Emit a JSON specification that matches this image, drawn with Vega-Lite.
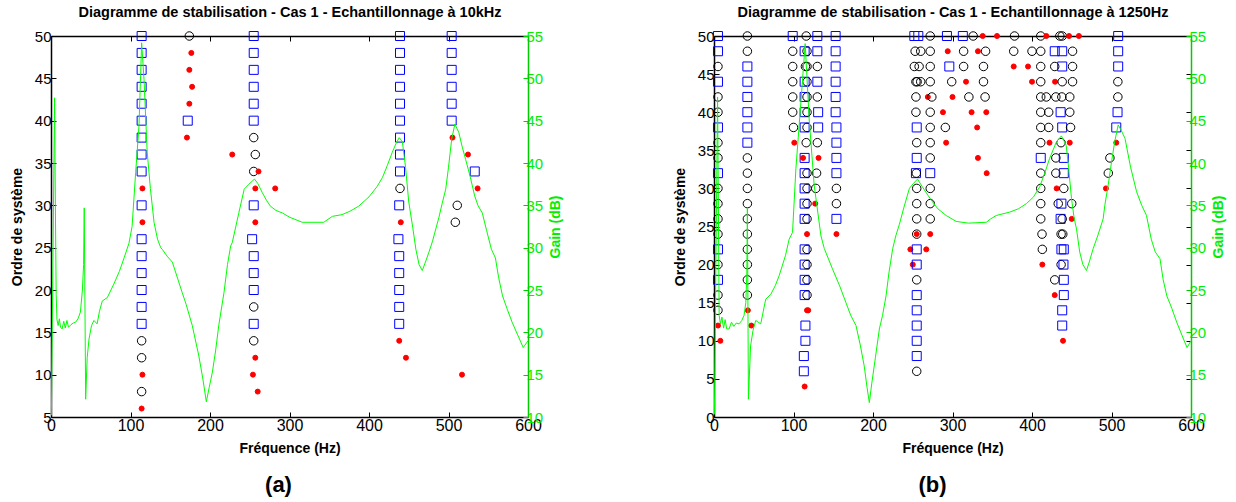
{
"$schema": "https://vega.github.io/schema/vega-lite/v6.json",
"padding": {"left": 10, "top": 4, "right": 2, "bottom": 2},
"background": "white",
"config": {
 "font": "Liberation Sans",
 "view": {"stroke": null},
 "axis": {"grid": false, "labelFont": "Liberation Sans", "titleFont": "Liberation Sans", "labelFontSize": 15, "titleFontSize": 14, "titleFontWeight": "bold", "titleColor": "#000000", "labelColor": "#000000", "domainColor": "#000000", "tickColor": "#000000", "tickSize": -5, "domainWidth": 1.5, "tickWidth": 1, "labelPadding": 5, "labelFlush": false, "labelOverlap": false},
 "title": {"font": "Liberation Sans", "color": "#000000"}
},
"datasets": {
"ptsA": [
{"f":114,"o":50,"k":"s"},{"f":114,"o":48,"k":"s"},{"f":114,"o":46,"k":"s"},{"f":114,"o":44,"k":"s"},{"f":114,"o":42,"k":"s"},{"f":114,"o":40,"k":"s"},{"f":114,"o":38,"k":"s"},{"f":114,"o":36,"k":"s"},{"f":114,"o":34,"k":"s"},{"f":115,"o":32,"k":"r"},{"f":114,"o":30,"k":"s"},{"f":115,"o":28,"k":"r"},{"f":114,"o":26,"k":"s"},{"f":114,"o":24,"k":"s"},{"f":114,"o":22,"k":"s"},{"f":114,"o":20,"k":"s"},{"f":114,"o":18,"k":"s"},{"f":114,"o":16,"k":"s"},{"f":114,"o":14,"k":"c"},{"f":114,"o":12,"k":"c"},{"f":115,"o":10,"k":"r"},{"f":114,"o":8,"k":"c"},{"f":114,"o":6,"k":"r"},
{"f":174,"o":50,"k":"c"},{"f":176.5,"o":48,"k":"r"},{"f":174,"o":46,"k":"r"},{"f":177.5,"o":44,"k":"r"},{"f":174,"o":42,"k":"r"},{"f":172,"o":40,"k":"s"},{"f":171,"o":38,"k":"r"},{"f":228,"o":36,"k":"r"},
{"f":255,"o":50,"k":"s"},{"f":255,"o":48,"k":"s"},{"f":255,"o":46,"k":"s"},{"f":255,"o":44,"k":"s"},{"f":255,"o":42,"k":"s"},{"f":255,"o":40,"k":"s"},{"f":255,"o":38,"k":"c"},{"f":257,"o":36,"k":"c"},{"f":255,"o":34,"k":"c"},{"f":261,"o":34,"k":"r"},{"f":257,"o":32,"k":"r"},{"f":282,"o":32,"k":"r"},{"f":255,"o":30,"k":"s"},{"f":257,"o":28,"k":"r"},{"f":253,"o":26,"k":"s"},{"f":255,"o":24,"k":"s"},{"f":255,"o":22,"k":"s"},{"f":255,"o":20,"k":"s"},{"f":255,"o":18,"k":"c"},{"f":255,"o":16,"k":"s"},{"f":255,"o":14,"k":"c"},{"f":257,"o":12,"k":"r"},{"f":254,"o":10,"k":"r"},{"f":260,"o":8,"k":"r"},
{"f":439,"o":50,"k":"s"},{"f":439,"o":48,"k":"s"},{"f":439,"o":46,"k":"s"},{"f":439,"o":44,"k":"s"},{"f":439,"o":42,"k":"s"},{"f":439,"o":40,"k":"s"},{"f":439,"o":38,"k":"s"},{"f":439,"o":36,"k":"s"},{"f":439,"o":34,"k":"s"},{"f":439,"o":32,"k":"c"},{"f":438,"o":30,"k":"s"},{"f":440,"o":28,"k":"r"},{"f":437,"o":26,"k":"s"},{"f":438,"o":24,"k":"s"},{"f":438,"o":22,"k":"s"},{"f":438,"o":20,"k":"s"},{"f":438,"o":18,"k":"s"},{"f":438,"o":16,"k":"s"},{"f":438,"o":14,"k":"r"},{"f":446.5,"o":12,"k":"r"},{"f":517,"o":10,"k":"r"},
{"f":504,"o":50,"k":"s"},{"f":504,"o":48,"k":"s"},{"f":504,"o":46,"k":"s"},{"f":504,"o":44,"k":"s"},{"f":504,"o":42,"k":"s"},{"f":504,"o":40,"k":"s"},{"f":505,"o":38,"k":"r"},{"f":524.5,"o":36,"k":"r"},{"f":533,"o":34,"k":"s"},{"f":536.6,"o":32,"k":"r"},{"f":511,"o":30,"k":"c"},{"f":508.6,"o":28,"k":"c"}
],
"lineA": [
{"f":0.5,"g":10.2},{"f":4.5,"g":47.7},{"f":5.5,"g":35},{"f":6.5,"g":24.5},{"f":7.5,"g":21.5},{"f":9,"g":20.8},{"f":10.5,"g":21.6},{"f":12,"g":20.6},{"f":14,"g":20.4},{"f":16,"g":21.3},{"f":18,"g":20.5},{"f":20,"g":21.4},{"f":22,"g":20.6},{"f":25,"g":20.9},{"f":28,"g":21.1},{"f":31,"g":21.2},{"f":34,"g":21.6},{"f":37,"g":22.4},{"f":39.5,"g":25},{"f":41,"g":28},{"f":41.8,"g":34.7},{"f":43.6,"g":12.1},{"f":45.5,"g":17},{"f":47.8,"g":19.2},{"f":51,"g":20.8},{"f":54,"g":21.4},{"f":58,"g":21},{"f":61,"g":22.5},{"f":64.5,"g":23.7},{"f":70.8,"g":24.1},{"f":79,"g":25.7},{"f":86,"g":27.2},{"f":92,"g":28.8},{"f":98,"g":30.5},{"f":102,"g":32.5},{"f":106.5,"g":38.9},{"f":110.7,"g":44.4},{"f":114,"g":54.2},{"f":117,"g":49.9},{"f":121,"g":41.3},{"f":125,"g":37},{"f":129.6,"g":33},{"f":134,"g":31},{"f":138,"g":30},{"f":140,"g":29.8},{"f":146,"g":29},{"f":152.6,"g":28.3},{"f":165,"g":24.7},{"f":170,"g":23.3},{"f":177.7,"g":20.8},{"f":186,"g":17.2},{"f":191,"g":14.5},{"f":195.4,"g":11.8},{"f":199,"g":13.5},{"f":203,"g":15.3},{"f":207,"g":17.8},{"f":211,"g":20.8},{"f":217.6,"g":24.7},{"f":222,"g":28},{"f":226,"g":30.2},{"f":228,"g":30.6},{"f":236,"g":34},{"f":243,"g":36.9},{"f":249,"g":37.5},{"f":256,"g":38.1},{"f":260,"g":37.6},{"f":265.8,"g":36.5},{"f":271,"g":35.6},{"f":276,"g":34.9},{"f":283,"g":34.4},{"f":291,"g":34.1},{"f":300,"g":33.6},{"f":316,"g":33},{"f":337,"g":33},{"f":343,"g":33},{"f":354,"g":33.7},{"f":366,"g":33.9},{"f":376,"g":34.3},{"f":387,"g":34.9},{"f":400,"g":36},{"f":410,"g":37.2},{"f":417,"g":38.3},{"f":423,"g":39.7},{"f":429,"g":41.2},{"f":434,"g":42.3},{"f":438,"g":43},{"f":442,"g":42.5},{"f":446,"g":39.5},{"f":450,"g":35.4},{"f":455,"g":32.4},{"f":459,"g":29.8},{"f":463,"g":28},{"f":467,"g":27.3},{"f":471,"g":28.3},{"f":475.5,"g":29.5},{"f":480,"g":30.8},{"f":484,"g":32.2},{"f":488,"g":33.6},{"f":492,"g":35.2},{"f":496.5,"g":36.9},{"f":500,"g":39.5},{"f":504,"g":42.8},{"f":508,"g":44.6},{"f":513,"g":43.6},{"f":517,"g":42},{"f":521.6,"g":40.4},{"f":527,"g":38.5},{"f":533,"g":36.1},{"f":537,"g":35},{"f":542.5,"g":34.1},{"f":548,"g":32},{"f":554,"g":29.8},{"f":559,"g":28.8},{"f":563,"g":26.5},{"f":568,"g":24.3},{"f":574,"g":22.7},{"f":580,"g":21.2},{"f":587,"g":19.7},{"f":594,"g":18.2},{"f":600,"g":19}
],
"ptsB": [
{"f":5,"o":50,"k":"s"},{"f":5,"o":48,"k":"s"},{"f":5,"o":46,"k":"c"},{"f":5,"o":44,"k":"s"},{"f":5,"o":42,"k":"c"},{"f":5,"o":40,"k":"c"},{"f":5,"o":38,"k":"s"},{"f":5,"o":36,"k":"c"},{"f":5,"o":34,"k":"c"},{"f":5,"o":32,"k":"s"},{"f":5,"o":30,"k":"c"},{"f":5,"o":28,"k":"c"},{"f":5,"o":26,"k":"c"},{"f":5,"o":24,"k":"c"},{"f":5,"o":22,"k":"s"},{"f":5,"o":20,"k":"c"},{"f":5,"o":18,"k":"s"},{"f":5,"o":16,"k":"c"},{"f":5,"o":14,"k":"c"},{"f":5,"o":12,"k":"r"},{"f":8,"o":10,"k":"r"},
{"f":42,"o":50,"k":"c"},{"f":42,"o":48,"k":"c"},{"f":42,"o":46,"k":"s"},{"f":42,"o":44,"k":"s"},{"f":42,"o":42,"k":"s"},{"f":42,"o":40,"k":"s"},{"f":42,"o":38,"k":"s"},{"f":42,"o":36,"k":"s"},{"f":42,"o":34,"k":"c"},{"f":42,"o":32,"k":"c"},{"f":42,"o":30,"k":"c"},{"f":42,"o":28,"k":"c"},{"f":42,"o":26,"k":"c"},{"f":42,"o":24,"k":"c"},{"f":42,"o":22,"k":"c"},{"f":42,"o":20,"k":"c"},{"f":42,"o":18,"k":"c"},{"f":42,"o":16,"k":"c"},{"f":42.6,"o":14,"k":"r"},{"f":47,"o":12,"k":"r"},
{"f":99,"o":50,"k":"s"},{"f":116,"o":50,"k":"c"},{"f":130,"o":50,"k":"s"},{"f":153,"o":50,"k":"s"},
{"f":99,"o":48,"k":"c"},{"f":114,"o":48,"k":"s"},{"f":117,"o":48,"k":"c"},{"f":130,"o":48,"k":"s"},{"f":153,"o":48,"k":"s"},
{"f":99,"o":46,"k":"c"},{"f":115,"o":46,"k":"c"},{"f":117,"o":46,"k":"c"},{"f":130,"o":46,"k":"c"},{"f":153,"o":46,"k":"s"},
{"f":99,"o":44,"k":"c"},{"f":114,"o":44,"k":"s"},{"f":117,"o":44,"k":"c"},{"f":130,"o":44,"k":"s"},{"f":153,"o":44,"k":"s"},
{"f":99,"o":42,"k":"c"},{"f":114,"o":42,"k":"s"},{"f":117,"o":42,"k":"c"},{"f":130,"o":42,"k":"c"},{"f":153,"o":42,"k":"s"},
{"f":99,"o":40,"k":"c"},{"f":114,"o":40,"k":"s"},{"f":117,"o":40,"k":"c"},{"f":131,"o":40,"k":"s"},{"f":153,"o":40,"k":"s"},
{"f":100,"o":38,"k":"c"},{"f":114,"o":38,"k":"s"},{"f":117,"o":38,"k":"c"},{"f":131,"o":38,"k":"s"},{"f":154,"o":38,"k":"s"},
{"f":101,"o":36,"k":"r"},{"f":116,"o":36,"k":"c"},{"f":130,"o":36,"k":"c"},{"f":154,"o":36,"k":"s"},
{"f":114,"o":34,"k":"s"},{"f":112,"o":34,"k":"r"},{"f":131.5,"o":34,"k":"r"},{"f":154,"o":34,"k":"s"},
{"f":114,"o":32,"k":"s"},{"f":117,"o":32,"k":"c"},{"f":129,"o":32,"k":"c"},{"f":154,"o":32,"k":"s"},
{"f":114,"o":30,"k":"s"},{"f":117,"o":30,"k":"c"},{"f":128,"o":30,"k":"c"},{"f":154,"o":30,"k":"c"},
{"f":114,"o":28,"k":"s"},{"f":117,"o":28,"k":"c"},{"f":127.3,"o":28,"k":"r"},{"f":154,"o":28,"k":"c"},
{"f":114,"o":26,"k":"s"},{"f":117,"o":26,"k":"c"},{"f":154,"o":26,"k":"s"},
{"f":117,"o":24,"k":"r"},{"f":154,"o":24,"k":"r"},
{"f":114,"o":22,"k":"s"},{"f":117,"o":22,"k":"c"},{"f":114,"o":20,"k":"s"},{"f":117,"o":20,"k":"c"},{"f":114,"o":18,"k":"s"},{"f":117,"o":18,"k":"c"},{"f":114,"o":16,"k":"s"},{"f":117,"o":16,"k":"c"},
{"f":117,"o":14,"k":"r"},{"f":118.5,"o":14,"k":"r"},{"f":115,"o":12,"k":"s"},{"f":115,"o":10,"k":"s"},{"f":113,"o":8,"k":"s"},{"f":113,"o":6,"k":"s"},{"f":114,"o":4,"k":"r"},
{"f":252,"o":50,"k":"s"},{"f":257,"o":50,"k":"s"},{"f":272,"o":50,"k":"c"},{"f":293,"o":50,"k":"s"},{"f":313,"o":50,"k":"s"},{"f":326,"o":50,"k":"c"},{"f":338,"o":50,"k":"r"},{"f":356,"o":50,"k":"r"},{"f":378,"o":50,"k":"c"},{"f":411,"o":50,"k":"c"},{"f":418,"o":50,"k":"r"},{"f":435,"o":50,"k":"c"},{"f":438,"o":50,"k":"c"},{"f":446.6,"o":50,"k":"r"},{"f":459,"o":50,"k":"r"},{"f":508.4,"o":50,"k":"s"},
{"f":253,"o":48,"k":"c"},{"f":260,"o":48,"k":"c"},{"f":272,"o":48,"k":"c"},{"f":294,"o":48,"k":"r"},{"f":314,"o":48,"k":"c"},{"f":332,"o":48,"k":"r"},{"f":341.6,"o":48,"k":"c"},{"f":377,"o":48,"k":"c"},{"f":400,"o":48,"k":"c"},{"f":411,"o":48,"k":"c"},{"f":428.6,"o":48,"k":"s"},{"f":438,"o":48,"k":"s"},{"f":451,"o":48,"k":"c"},{"f":508.4,"o":48,"k":"s"},
{"f":252,"o":46,"k":"c"},{"f":258,"o":46,"k":"c"},{"f":272,"o":46,"k":"c"},{"f":296,"o":46,"k":"s"},{"f":314,"o":46,"k":"c"},{"f":339,"o":46,"k":"c"},{"f":377,"o":46,"k":"r"},{"f":395,"o":46,"k":"r"},{"f":411,"o":46,"k":"c"},{"f":428.6,"o":46,"k":"c"},{"f":438,"o":46,"k":"s"},{"f":451,"o":46,"k":"c"},{"f":508.4,"o":46,"k":"s"},
{"f":254,"o":44,"k":"c"},{"f":255.5,"o":44,"k":"c"},{"f":260,"o":44,"k":"c"},{"f":272,"o":44,"k":"c"},{"f":299,"o":44,"k":"c"},{"f":317,"o":44,"k":"r"},{"f":339,"o":44,"k":"c"},{"f":400,"o":44,"k":"r"},{"f":411,"o":44,"k":"c"},{"f":429,"o":44,"k":"r"},{"f":438,"o":44,"k":"c"},{"f":451,"o":44,"k":"c"},{"f":508,"o":44,"k":"c"},
{"f":254,"o":42,"k":"c"},{"f":269,"o":42,"k":"r"},{"f":274,"o":42,"k":"c"},{"f":300,"o":42,"k":"r"},{"f":320.6,"o":42,"k":"c"},{"f":341,"o":42,"k":"c"},{"f":411,"o":42,"k":"c"},{"f":418,"o":42,"k":"c"},{"f":430,"o":42,"k":"c"},{"f":437.5,"o":42,"k":"c"},{"f":447.5,"o":42,"k":"c"},{"f":508,"o":42,"k":"c"},
{"f":254,"o":40,"k":"c"},{"f":272,"o":40,"k":"c"},{"f":288,"o":40,"k":"r"},{"f":324,"o":40,"k":"r"},{"f":342.5,"o":40,"k":"r"},{"f":411,"o":40,"k":"c"},{"f":421,"o":40,"k":"c"},{"f":436,"o":40,"k":"s"},{"f":447.5,"o":40,"k":"c"},{"f":507.6,"o":40,"k":"s"},
{"f":255,"o":38,"k":"s"},{"f":272,"o":38,"k":"c"},{"f":291,"o":38,"k":"c"},{"f":331,"o":38,"k":"r"},{"f":411,"o":38,"k":"c"},{"f":421,"o":38,"k":"c"},{"f":438,"o":38,"k":"s"},{"f":448.5,"o":38,"k":"c"},{"f":506,"o":38,"k":"s"},
{"f":255,"o":36,"k":"c"},{"f":272,"o":36,"k":"c"},{"f":292,"o":36,"k":"r"},{"f":411,"o":36,"k":"c"},{"f":422,"o":36,"k":"r"},{"f":436.5,"o":36,"k":"c"},{"f":447.5,"o":36,"k":"r"},{"f":506,"o":36,"k":"r"},
{"f":255,"o":34,"k":"s"},{"f":272,"o":34,"k":"c"},{"f":332,"o":34,"k":"r"},{"f":411,"o":34,"k":"s"},{"f":430,"o":34,"k":"c"},{"f":440,"o":34,"k":"s"},{"f":498,"o":34,"k":"c"},
{"f":254,"o":32,"k":"s"},{"f":254.5,"o":32,"k":"c"},{"f":272,"o":32,"k":"s"},{"f":343,"o":32,"k":"r"},{"f":411,"o":32,"k":"c"},{"f":430,"o":32,"k":"c"},{"f":440,"o":32,"k":"s"},{"f":496,"o":32,"k":"c"},
{"f":255,"o":30,"k":"c"},{"f":272,"o":30,"k":"c"},{"f":411,"o":30,"k":"c"},{"f":431,"o":30,"k":"r"},{"f":440,"o":30,"k":"c"},{"f":493,"o":30,"k":"r"},
{"f":255,"o":28,"k":"c"},{"f":272,"o":28,"k":"c"},{"f":411,"o":28,"k":"c"},{"f":433,"o":28,"k":"c"},{"f":437,"o":28,"k":"s"},{"f":450,"o":28,"k":"c"},
{"f":255,"o":26,"k":"c"},{"f":272,"o":26,"k":"c"},{"f":411,"o":26,"k":"c"},{"f":436,"o":26,"k":"s"},{"f":438,"o":26,"k":"c"},{"f":450,"o":26,"k":"r"},
{"f":255,"o":24,"k":"c"},{"f":255,"o":24,"k":"r"},{"f":272,"o":24,"k":"r"},{"f":412.6,"o":24,"k":"c"},{"f":436.6,"o":24,"k":"c"},{"f":438.7,"o":24,"k":"c"},
{"f":247,"o":22,"k":"r"},{"f":255,"o":22,"k":"s"},{"f":267,"o":22,"k":"r"},{"f":413,"o":22,"k":"c"},{"f":437,"o":22,"k":"s"},{"f":440,"o":22,"k":"s"},
{"f":250,"o":20,"k":"r"},{"f":255,"o":20,"k":"s"},{"f":413,"o":20,"k":"r"},{"f":436.6,"o":20,"k":"c"},{"f":439.6,"o":20,"k":"s"},
{"f":255,"o":18,"k":"c"},{"f":428.6,"o":18,"k":"c"},{"f":440,"o":18,"k":"s"},
{"f":255,"o":16,"k":"s"},{"f":428.6,"o":16,"k":"r"},{"f":440,"o":16,"k":"s"},
{"f":255,"o":14,"k":"s"},{"f":438,"o":14,"k":"s"},{"f":255,"o":12,"k":"s"},{"f":438,"o":12,"k":"s"},{"f":255,"o":10,"k":"s"},{"f":439,"o":10,"k":"r"},{"f":255,"o":8,"k":"s"},{"f":255,"o":6,"k":"c"}
],
"lineB": [
{"f":0.5,"g":10.3},{"f":4.5,"g":47.8},{"f":5.5,"g":35},{"f":6.5,"g":22},{"f":8,"g":21},{"f":10,"g":21.8},{"f":12,"g":20.5},{"f":14,"g":21.5},{"f":16,"g":20.4},{"f":19,"g":20.4},{"f":22,"g":21.2},{"f":25,"g":20.7},{"f":28,"g":21.1},{"f":31.5,"g":21},{"f":35,"g":21.4},{"f":37.8,"g":22},{"f":40,"g":23.5},{"f":41.3,"g":27},{"f":42,"g":34.7},{"f":43.3,"g":12.1},{"f":46,"g":18.4},{"f":49,"g":20.2},{"f":52.5,"g":21.4},{"f":55.5,"g":21.2},{"f":58.8,"g":21},{"f":62,"g":22.5},{"f":65,"g":23.9},{"f":71.5,"g":24.5},{"f":77,"g":25.5},{"f":82,"g":26.7},{"f":90,"g":29.1},{"f":94.5,"g":31},{"f":98.8,"g":31.8},{"f":103,"g":39.3},{"f":109.3,"g":47.2},{"f":114.7,"g":54.1},{"f":119.7,"g":45.2},{"f":126,"g":37.4},{"f":134.5,"g":31.4},{"f":138.7,"g":29.9},{"f":149,"g":27.5},{"f":158,"g":25.5},{"f":166,"g":23.5},{"f":172,"g":22},{"f":178.6,"g":20.8},{"f":184,"g":18.5},{"f":189,"g":16},{"f":192.5,"g":13.5},{"f":195.4,"g":11.7},{"f":198.5,"g":14},{"f":203,"g":17},{"f":208,"g":20.4},{"f":212,"g":22},{"f":216.4,"g":24.3},{"f":220,"g":27},{"f":224.8,"g":29.9},{"f":229,"g":31.5},{"f":233,"g":32.7},{"f":239,"g":34.8},{"f":245.8,"g":37},{"f":251,"g":37.6},{"f":256,"g":38.1},{"f":262,"g":37.2},{"f":269,"g":36.2},{"f":275,"g":35.4},{"f":281.5,"g":34.6},{"f":292,"g":33.8},{"f":304.6,"g":33.1},{"f":320,"g":32.9},{"f":342.5,"g":33},{"f":348,"g":33.4},{"f":355,"g":33.8},{"f":372,"g":34.2},{"f":383,"g":34.6},{"f":393,"g":35.2},{"f":402,"g":36},{"f":409.7,"g":37.2},{"f":416,"g":38.8},{"f":422,"g":40.5},{"f":430.7,"g":42.5},{"f":437,"g":43.2},{"f":443,"g":42.1},{"f":446,"g":39.5},{"f":449.7,"g":35.8},{"f":453,"g":33.5},{"f":456,"g":32.2},{"f":460,"g":29.5},{"f":464,"g":28},{"f":468.5,"g":27.3},{"f":472,"g":28.3},{"f":477,"g":29.9},{"f":483,"g":31.5},{"f":489.5,"g":33.4},{"f":491.6,"g":35},{"f":496,"g":37.5},{"f":500,"g":40.1},{"f":504,"g":42.5},{"f":508.4,"g":44.5},{"f":512,"g":43.9},{"f":517,"g":42.9},{"f":524,"g":39.5},{"f":531.6,"g":36.6},{"f":538,"g":35},{"f":544,"g":33.8},{"f":550,"g":31},{"f":555,"g":29.5},{"f":561,"g":28.7},{"f":565,"g":26.2},{"f":569.6,"g":24.3},{"f":576,"g":22.8},{"f":582,"g":21.2},{"f":588,"g":19.8},{"f":595,"g":18.2},{"f":600,"g":19}
]
},
"hconcat": [
{
 "width": 477, "height": 381,
 "title": {"text": "(a)", "orient": "bottom", "fontSize": 22, "fontWeight": "bold", "dx": -11, "offset": 20},
 "layer": [
  {"data": {"name": "ptsA"}, "mark": {"type": "point", "opacity": 1, "strokeWidth": 1},
   "encoding": {
    "x": {"field": "f", "type": "quantitative", "scale": {"domain": [0, 600], "nice": false, "zero": false}, "axis": {"orient": "bottom", "values": [0,100,200,300,400,500,600], "title": "Fréquence (Hz)", "labelFontSize": 16, "titlePadding": 8}},
    "y": {"field": "o", "type": "quantitative", "scale": {"domain": [5, 50], "nice": false, "zero": false}, "axis": {"orient": "left", "values": [5,10,15,20,25,30,35,40,45,50], "title": "Ordre de système", "titlePadding": 10}},
    "shape": {"field": "k", "type": "nominal", "scale": {"domain": ["s","c","r"], "range": ["square","circle","circle"]}, "legend": null},
    "stroke": {"field": "k", "type": "nominal", "scale": {"domain": ["s","c","r"], "range": ["#0000ff","#000000","#ff0000"]}, "legend": null},
    "fill": {"field": "k", "type": "nominal", "scale": {"domain": ["s","c","r"], "range": ["transparent","transparent","#ff0000"]}, "legend": null},
    "size": {"field": "k", "type": "nominal", "scale": {"type": "ordinal", "domain": ["s","c","r"], "range": [81,72,25]}, "legend": null}
   }},
  {"data": {"name": "lineA"}, "mark": {"type": "line", "color": "#00ff00", "strokeWidth": 1},
   "encoding": {
    "x": {"field": "f", "type": "quantitative", "scale": {"domain": [0, 600], "nice": false, "zero": false}, "axis": null},
    "y": {"field": "g", "type": "quantitative", "scale": {"domain": [10, 55], "nice": false, "zero": false}, "axis": {"orient": "right", "values": [10,15,20,25,30,35,40,45,50,55], "title": "Gain (dB)", "titleAngle": 270, "titleBaseline": "top", "titleColor": "#00ee00", "labelColor": "#00ee00", "domainColor": "#00cc00", "tickColor": "#00cc00", "labelPadding": 3, "titlePadding": 6}}
   }},
  {"data": {"name": "lineA"}, "mark": {"type": "rule", "opacity": 0},
   "encoding": {
    "x": {"field": "f", "type": "quantitative", "scale": {"domain": [0, 600], "nice": false, "zero": false}, "axis": {"orient": "top", "labels": false, "values": [0,100,200,300,400,500,600], "title": "Diagramme de stabilisation - Cas 1 - Echantillonnage à 10kHz", "titleFontSize": 14.5, "titlePadding": 16}}
   }}
 ],
 "resolve": {"scale": {"y": "independent"}}
},
{
 "width": 477, "height": 381,
 "title": {"text": "(b)", "orient": "bottom", "fontSize": 22, "fontWeight": "bold", "dx": -20, "offset": 20},
 "layer": [
  {"data": {"name": "ptsB"}, "mark": {"type": "point", "opacity": 1, "strokeWidth": 1},
   "encoding": {
    "x": {"field": "f", "type": "quantitative", "scale": {"domain": [0, 600], "nice": false, "zero": false}, "axis": {"orient": "bottom", "values": [0,100,200,300,400,500,600], "title": "Fréquence (Hz)", "labelFontSize": 16, "titlePadding": 8}},
    "y": {"field": "o", "type": "quantitative", "scale": {"domain": [0, 50], "nice": false, "zero": false}, "axis": {"orient": "left", "values": [0,5,10,15,20,25,30,35,40,45,50], "title": "Ordre de système", "titlePadding": 10}},
    "shape": {"field": "k", "type": "nominal", "scale": {"domain": ["s","c","r"], "range": ["square","circle","circle"]}, "legend": null},
    "stroke": {"field": "k", "type": "nominal", "scale": {"domain": ["s","c","r"], "range": ["#0000ff","#000000","#ff0000"]}, "legend": null},
    "fill": {"field": "k", "type": "nominal", "scale": {"domain": ["s","c","r"], "range": ["transparent","transparent","#ff0000"]}, "legend": null},
    "size": {"field": "k", "type": "nominal", "scale": {"type": "ordinal", "domain": ["s","c","r"], "range": [81,72,25]}, "legend": null}
   }},
  {"data": {"name": "ptsB"}, "mark": {"type": "rule", "opacity": 0},
   "encoding": {
    "y": {"field": "o", "type": "quantitative", "scale": {"domain": [0, 50], "nice": false, "zero": false}, "axis": {"orient": "right", "values": [0,5,10,15,20,25,30,35,40,45,50], "labels": false, "domain": false, "title": null}}
   }},
  {"data": {"name": "lineB"}, "mark": {"type": "line", "color": "#00ff00", "strokeWidth": 1},
   "encoding": {
    "x": {"field": "f", "type": "quantitative", "scale": {"domain": [0, 600], "nice": false, "zero": false}, "axis": null},
    "y": {"field": "g", "type": "quantitative", "scale": {"domain": [10, 55], "nice": false, "zero": false}, "axis": {"orient": "right", "values": [10,15,20,25,30,35,40,45,50,55], "title": "Gain (dB)", "titleAngle": 270, "titleBaseline": "top", "titleColor": "#00ee00", "labelColor": "#00ee00", "domainColor": "#00cc00", "tickColor": "#00cc00", "labelPadding": 3, "titlePadding": 6}}
   }},
  {"data": {"name": "lineB"}, "mark": {"type": "rule", "opacity": 0},
   "encoding": {
    "x": {"field": "f", "type": "quantitative", "scale": {"domain": [0, 600], "nice": false, "zero": false}, "axis": {"orient": "top", "labels": false, "values": [0,100,200,300,400,500,600], "title": "Diagramme de stabilisation - Cas 1 - Echantillonnage à 1250Hz", "titleFontSize": 14.5, "titlePadding": 16}}
   }}
 ],
 "resolve": {"scale": {"y": "independent"}}
}
],
"spacing": 186,
"bounds": "flush"
}
